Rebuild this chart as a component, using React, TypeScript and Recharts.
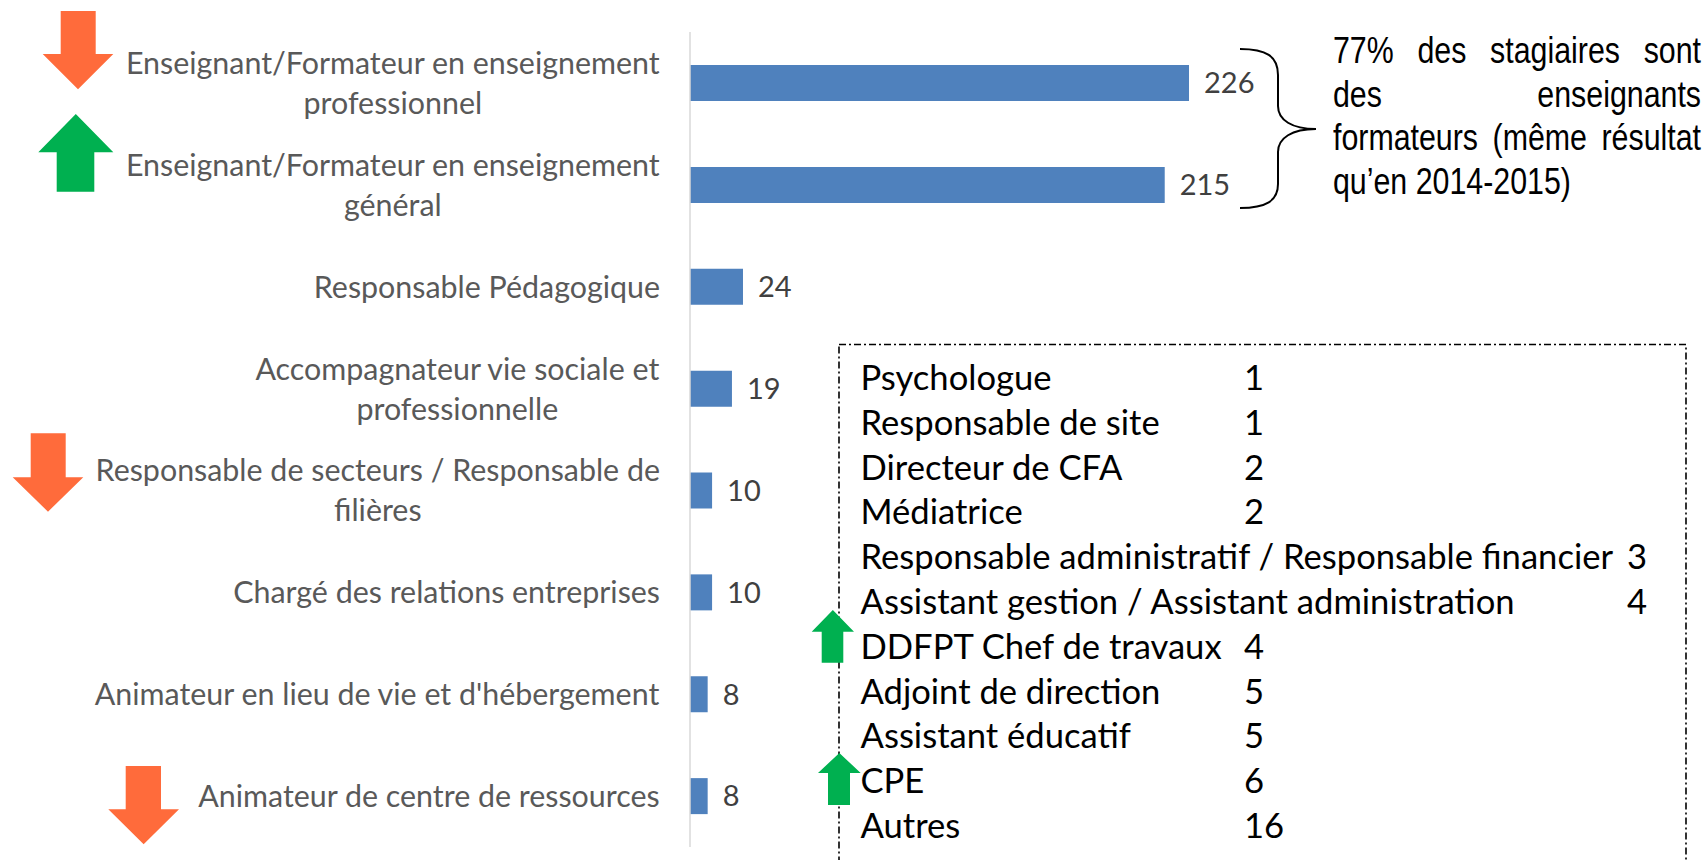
import { BarChart, Bar, XAxis, YAxis, LabelList } from 'recharts';

// main chart data
const categories = [
  'Enseignant/Formateur en enseignement\nprofessionnel',
  'Enseignant/Formateur en enseignement\ngénéral',
  'Responsable Pédagogique',
  'Accompagnateur vie sociale et\nprofessionnelle',
  'Responsable de secteurs / Responsable de\nfilières',
  'Chargé des relations entreprises',
  "Animateur en lieu de vie et d'hébergement",
  'Animateur de centre de ressources',
];
const counts = [226, 215, 24, 19, 10, 10, 8, 8];

// the boxed list of smaller roles
const otherRoles = [
  'Psychologue',
  'Responsable de site',
  'Directeur de CFA',
  'Médiatrice',
  'Responsable administratif / Responsable financier',
  'Assistant gestion / Assistant administration',
  'DDFPT Chef de travaux',
  'Adjoint de direction',
  'Assistant éducatif',
  'CPE',
  'Autres',
];
const otherCounts = [1, 1, 2, 2, 3, 4, 4, 5, 5, 6, 16];

const noteLines = [
  '77% des stagiaires sont',
  'des enseignants',
  'formateurs (même résultat',
  'qu’en 2014-2015)',
];

const data = categories.map((name, i) => ({ name, value: counts[i] }));

const FONT = 'Lato, "Noto Sans", sans-serif';
const LABEL_SIZE = 30.4;
const LABEL_FONT = `${LABEL_SIZE}px Lato`;
const VALUE_SIZE = 29;
const BOX_SIZE = 34.6;
const BOX_FONT = `${BOX_SIZE}px Lato`;
const LABEL_RIGHT = 660;
const LINE_H = 40;

let ctx: CanvasRenderingContext2D | null = null;
function measure(text: string, font: string) {
  if (!ctx) ctx = document.createElement('canvas').getContext('2d');
  if (!ctx) return text.length * 14;
  ctx.font = font;
  return ctx.measureText(text).width;
}

function CategoryTick(props: any) {
  const { y, payload } = props;
  const lines = String(payload.value).split('\n');
  const blockW = Math.max(...lines.map((l) => measure(l, LABEL_FONT)));
  const cx = LABEL_RIGHT - blockW / 2;
  const n = lines.length;
  return (
    <g>
      {lines.map((l, i) => (
        <text
          key={i}
          x={cx}
          y={y + (i - (n - 1) / 2) * LINE_H + 11}
          textAnchor="middle"
          fill="#595959"
          fontSize={LABEL_SIZE}
          fontFamily={FONT}
        >
          {l}
        </text>
      ))}
    </g>
  );
}

function arrowDown(l: number, r: number, sl: number, sr: number, top: number, neck: number, tip: number) {
  const cx = (l + r) / 2;
  return `M${sl} ${top} L${sr} ${top} L${sr} ${neck} L${r} ${neck} L${cx} ${tip} L${l} ${neck} L${sl} ${neck} Z`;
}
function arrowUp(l: number, r: number, sl: number, sr: number, tip: number, neck: number, bottom: number) {
  const cx = (l + r) / 2;
  return `M${cx} ${tip} L${r} ${neck} L${sr} ${neck} L${sr} ${bottom} L${sl} ${bottom} L${sl} ${neck} L${l} ${neck} Z`;
}

const ORANGE = '#FF6B3B';
const GREEN = '#00B050';

function Overlay() {
  const rowY0 = 378;
  const rowH = 44.8;
  return (
    <svg
      width={1708}
      height={860}
      style={{ position: 'absolute', left: 0, top: 0, pointerEvents: 'none' }}
    >
      {/* trend arrows */}
      <path d={arrowDown(42.7, 113.3, 60.7, 95.7, 11, 54, 89.3)} fill={ORANGE} />
      <path d={arrowUp(38.3, 113.3, 56.7, 94.3, 114, 152.3, 191.7)} fill={GREEN} />
      <path d={arrowDown(12.7, 83.3, 30.7, 65.7, 433.3, 477.3, 511.7)} fill={ORANGE} />
      <path d={arrowDown(108.3, 179, 125.7, 161, 766, 809.3, 844.3)} fill={ORANGE} />

      {/* brace */}
      <path
        d="M1240 49 C1266 49 1278 56 1278 75 L1278 106 C1278 120 1292 129 1316 129 C1292 129 1278 138 1278 152 L1278 184 C1278 201 1266 208 1240 208"
        fill="none"
        stroke="#000"
        strokeWidth={2}
      />

      {/* box of other roles */}
      <rect
        x={839}
        y={344.5}
        width={847}
        height={560}
        fill="none"
        stroke="#000"
        strokeWidth={1.6}
        strokeDasharray="7 3 2 3"
      />
      <path d={arrowUp(811.7, 854, 821.7, 843.3, 610, 631.7, 662.7)} fill={GREEN} />
      <path d={arrowUp(818, 860.7, 828, 850, 753, 773, 805)} fill={GREEN} />
      {otherRoles.map((role, i) => {
        const w = measure(role, BOX_FONT);
        const vx = 860.5 + w + 10 > 1244 ? 1627 : 1244;
        const y = rowY0 + i * rowH + 12;
        return (
          <g key={role}>
            <text x={860.5} y={y} fontSize={BOX_SIZE} fontFamily={FONT} fill="#000">
              {role}
            </text>
            <text x={vx} y={y} fontSize={BOX_SIZE} fontFamily={FONT} fill="#000">
              {otherCounts[i]}
            </text>
          </g>
        );
      })}
    </svg>
  );
}

function Note() {
  const scale = 0.82;
  const w = 368 / scale;
  return (
    <div
      style={{
        position: 'absolute',
        left: 1333,
        top: 29,
        width: w,
        transform: `scaleX(${scale})`,
        transformOrigin: 'left top',
        fontFamily: '"Liberation Sans", Arial, sans-serif',
        fontSize: 37,
        lineHeight: '43.7px',
        color: '#000',
      }}
    >
      {noteLines.map((l, i) => (
        <div
          key={i}
          style={{
            whiteSpace: 'nowrap',
            textAlign: i < noteLines.length - 1 ? 'justify' : 'left',
            textAlignLast: i < noteLines.length - 1 ? 'justify' : 'left',
          }}
        >
          {l}
        </div>
      ))}
    </div>
  );
}

export default function App() {
  return (
    <div style={{ position: 'absolute', left: 0, top: 0, width: 1708, height: 860, background: '#fff' }}>
      <BarChart
        width={1708}
        height={860}
        data={data}
        layout="vertical"
        margin={{ top: 32, right: 466, bottom: 13, left: 0 }}
      >
        <XAxis type="number" domain={[0, 250]} hide />
        <YAxis
          type="category"
          dataKey="name"
          width={690}
          axisLine={{ stroke: '#D9D9D9', strokeWidth: 1.5 }}
          tickLine={false}
          tick={<CategoryTick />}
          interval={0}
        />
        <Bar dataKey="value" fill="#4F81BD" barSize={36} isAnimationActive={false}>
          <LabelList
            dataKey="value"
            position="right"
            offset={15}
            fill="#404040"
            fontSize={VALUE_SIZE}
            fontFamily={FONT}
          />
        </Bar>
      </BarChart>
      <Overlay />
      <Note />
    </div>
  );
}
